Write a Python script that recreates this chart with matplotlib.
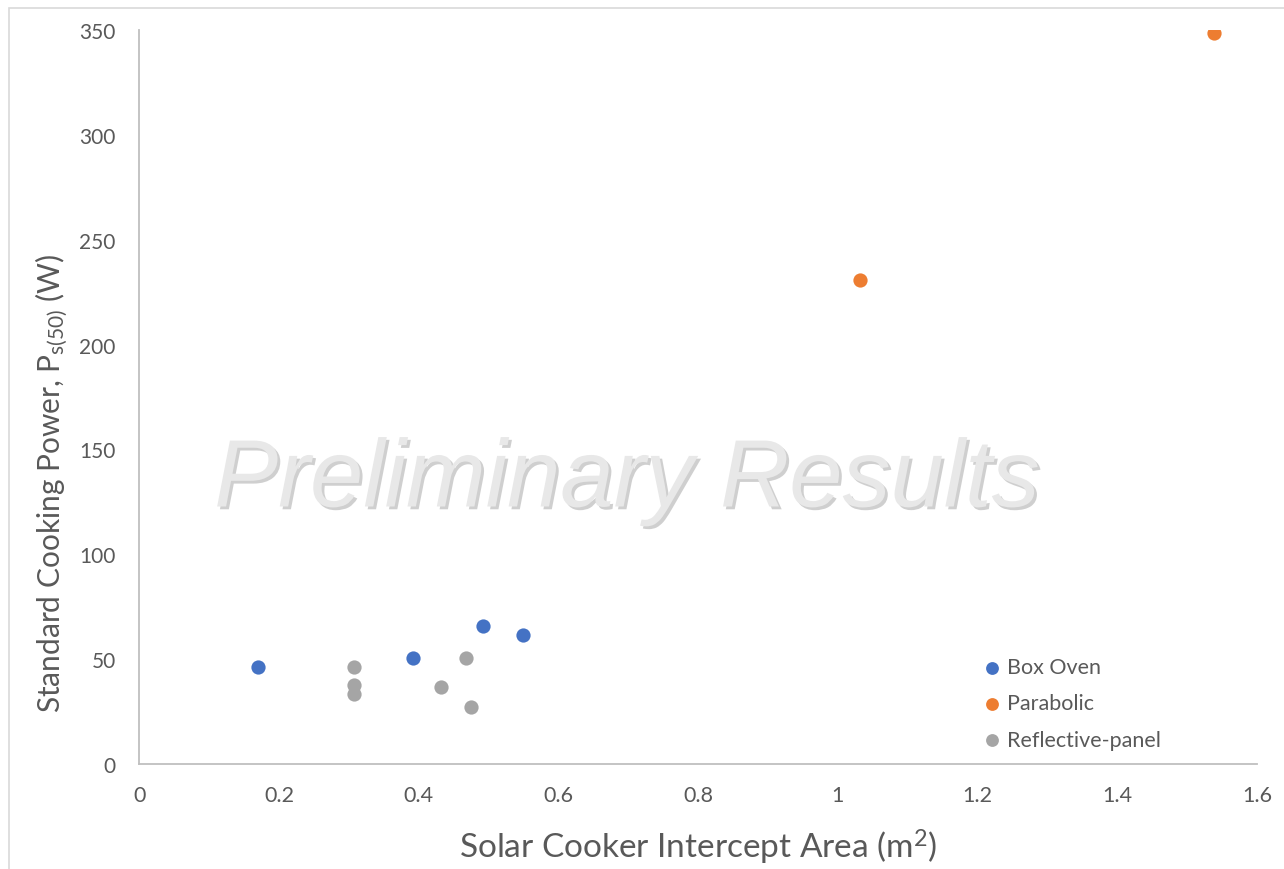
import matplotlib
matplotlib.use('Agg')
import matplotlib.pyplot as plt
import matplotlib.patheffects as pe
from matplotlib.patches import Rectangle

plt.rcParams['font.family'] = ['Lato', 'DejaVu Sans']

# data
box_x = [0.170, 0.392, 0.492, 0.549]
box_y = [46.2, 50.8, 66.0, 61.5]

para_x = [1.031, 1.539]
para_y = [230.7, 348.3]

refl_x = [0.307, 0.307, 0.307, 0.432, 0.467, 0.475]
refl_y = [46.2, 37.8, 33.5, 36.7, 50.8, 27.2]

x_ticks = [0, 0.2, 0.4, 0.6, 0.8, 1, 1.2, 1.4, 1.6]
x_labels = ['0', '0.2', '0.4', '0.6', '0.8', '1', '1.2', '1.4', '1.6']
y_ticks = [0, 50, 100, 150, 200, 250, 300, 350]

TXT = '#595959'

fig = plt.figure(figsize=(12.84, 8.70), dpi=100)
fig.patches.append(Rectangle((9 / 1284, -0.1), 1.2, 1 - 9 / 870 + 0.1,
                             transform=fig.transFigure, fill=False,
                             edgecolor='#d9d9d9', lw=1.2))
ax = fig.add_axes([0.1085, 0.1203, 0.9790 - 0.1085, 0.9647 - 0.1203])

ax.scatter(box_x, box_y, s=105, color='#4472C4', label='Box Oven', zorder=3, lw=0)
ax.scatter(para_x, para_y, s=105, color='#ED7D31', label='Parabolic', zorder=3, lw=0)
ax.scatter(refl_x, refl_y, s=105, color='#A5A5A5', label='Reflective-panel', zorder=3, lw=0)

ax.set_xlim(0, 1.6)
ax.set_ylim(0, 350)
ax.set_xticks(x_ticks)
ax.set_xticklabels(x_labels)
ax.set_yticks(y_ticks)
ax.tick_params(length=0, labelsize=15.5, colors=TXT, pad=15)
ax.tick_params(axis='y', labelsize=15, pad=17)

for s in ['top', 'right']:
    ax.spines[s].set_visible(False)
for s in ['left', 'bottom']:
    ax.spines[s].set_color('#bfbfbf')
    ax.spines[s].set_linewidth(1.3)

ax.set_xlabel(r'Solar Cooker Intercept Area ($\mathregular{m^2}$)', fontsize=24, color=TXT, labelpad=16)
ax.set_ylabel(r'Standard Cooking Power, $\mathregular{P_{s(50)}}$ (W)', fontsize=21.5, color=TXT)
ax.yaxis.set_label_coords(-0.062, 0.384)

ax.text(0.4365, 0.385, 'Preliminary Results', transform=ax.transAxes,
        ha='center', va='center', fontsize=69, style='italic',
        family='Liberation Sans', color='#e8e8e8', zorder=1,
        path_effects=[pe.withSimplePatchShadow(offset=(2, -2), shadow_rgbFace='#b0b0b0', alpha=0.6)])

leg = ax.legend(loc='center left', bbox_to_anchor=(0.755, 0.083), frameon=False,
                fontsize=15.5, handlelength=0.8, handletextpad=0.3, labelspacing=0.75,
                borderpad=0, borderaxespad=0, markerscale=0.9)
for t in leg.get_texts():
    t.set_color(TXT)

fig.savefig('out.png', dpi=100)
